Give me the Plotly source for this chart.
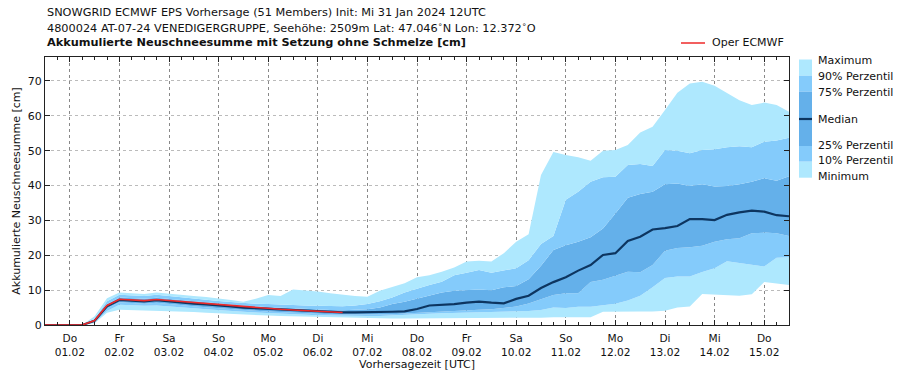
import pandas as pd
import plotly.graph_objects as go

# ---------------- data (6-hourly, from init 2024-01-31 12 UTC) ----------------
init_time = "2024-01-31 12:00"
n_steps = 61
times = pd.date_range(init_time, periods=n_steps, freq="6h")

maximum = [0, 0, 0, 0, 2.5, 7.7, 9.3, 9.1, 8.9, 9.3, 8.9, 8.7, 8.3, 8.0,
           7.7, 7.2, 6.7, 7.5, 8.6, 8.3, 10.2, 10.0, 9.6, 9.1,
           8.6, 8.3, 8.1, 9.8, 10.9, 12.0, 13.7, 14.3, 15.3, 16.5,
           18.2, 18.4, 18.2, 20.6, 23.9, 26.0, 43.0, 49.6, 48.8, 48.1,
           47.1, 50.0, 50.2, 51.6, 55.2, 56.9, 61.7, 66.6, 69.3, 69.8,
           68.6, 66.5, 64.5, 63.1, 63.8, 63.1, 61.2]
p90 = [0, 0, 0, 0, 1.8, 6.8, 8.7, 8.5, 8.3, 8.7, 8.3, 8.0, 7.6, 7.3,
       6.9, 6.6, 6.3, 6.1, 6.0, 5.8, 5.7, 5.6, 5.5, 5.4,
       5.4, 5.6, 6.0, 6.8, 7.9, 9.3, 10.5, 11.5, 12.4, 14.3,
       15.0, 15.8, 15.0, 15.6, 16.3, 18.6, 23.2, 25.5, 35.9, 38.2,
       41.1, 42.4, 42.5, 45.9, 46.2, 45.6, 50.2, 50.0, 49.3, 50.2,
       50.4, 51.0, 51.3, 51.0, 52.6, 52.9, 53.7]
p75 = [0, 0, 0, 0, 1.5, 6.0, 7.9, 7.7, 7.5, 7.8, 7.4, 7.1, 6.8, 6.5,
       6.1, 5.8, 5.5, 5.3, 5.1, 4.9, 4.7, 4.5, 4.4, 4.3,
       4.2, 4.3, 4.5, 5.0, 6.0, 6.7, 7.6, 8.6, 9.3, 9.8,
       10.0, 10.2, 10.0, 10.8, 11.2, 13.1, 17.0, 21.5, 22.9, 23.9,
       25.2, 27.7, 32.0, 36.5, 37.6, 38.2, 40.4, 40.6, 39.9, 40.4,
       39.7, 39.9, 40.4, 41.1, 42.1, 41.4, 42.7]
median = [0, 0, 0, 0, 1.2, 5.4, 7.2, 7.0, 6.8, 7.1, 6.7, 6.4, 6.1, 5.9,
          5.5, 5.3, 5.0, 4.8, 4.6, 4.4, 4.2, 4.0, 3.9, 3.7,
          3.6, 3.6, 3.6, 3.7, 3.8, 3.9, 4.6, 5.6, 5.7, 6.0,
          6.4, 6.7, 6.4, 6.2, 7.5, 8.4, 10.6, 12.3, 13.7, 15.6,
          17.2, 20.1, 20.6, 24.1, 25.3, 27.4, 27.8, 28.4, 30.4, 30.4,
          30.1, 31.6, 32.3, 32.8, 32.5, 31.5, 31.2]
p25 = [0, 0, 0, 0, 1.0, 4.8, 6.5, 6.3, 6.1, 6.4, 6.0, 5.7, 5.4, 5.1,
       4.8, 4.6, 4.3, 4.1, 3.9, 3.7, 3.5, 3.4, 3.2, 3.1,
       3.0, 3.0, 3.0, 3.0, 3.1, 3.3, 3.5, 3.8, 4.0, 4.2,
       4.3, 4.4, 4.5, 4.8, 5.3, 6.2, 7.4, 8.6, 9.1, 9.1,
       12.3, 13.0, 14.1, 15.3, 15.1, 17.2, 21.3, 22.1, 22.3, 22.7,
       23.9, 24.6, 24.9, 26.3, 26.5, 26.3, 25.5]
p10 = [0, 0, 0, 0, 0.8, 4.0, 5.8, 5.6, 5.5, 5.6, 5.4, 5.1, 4.8, 4.5,
       4.2, 4.0, 3.8, 3.6, 3.4, 3.2, 3.0, 2.9, 2.8, 2.7,
       2.6, 2.6, 2.6, 2.6, 2.7, 2.8, 3.0, 3.2, 3.4, 3.5,
       3.6, 3.7, 3.8, 3.8, 3.8, 4.0, 4.3, 5.0, 4.9, 5.2,
       5.2, 5.6, 6.1, 7.0, 8.4, 10.8, 13.5, 13.9, 13.9, 15.2,
       16.3, 18.3, 17.8, 17.5, 16.8, 19.3, 19.4]
minimum = [0, 0, 0, 0, 0.5, 3.5, 4.4, 4.3, 4.2, 4.2, 4.1, 3.9, 3.7, 3.5,
           3.3, 3.1, 3.0, 2.8, 2.7, 2.6, 2.5, 2.4, 2.3, 2.2,
           2.1, 2.0, 2.0, 2.0, 1.9, 1.9, 1.9, 1.9, 1.9, 1.9,
           1.9, 2.0, 2.0, 2.0, 2.0, 2.1, 2.1, 2.2, 2.2, 2.2,
           2.2, 3.8, 3.9, 3.9, 3.9, 3.9, 4.1, 5.0, 5.3, 8.9,
           8.7, 8.5, 8.4, 8.8, 12.3, 11.9, 11.5]
oper = [0, 0, 0, 0, 1.3, 5.6, 7.4, 7.2, 7.0, 7.3, 7.0, 6.7, 6.4, 6.1,
        5.8, 5.5, 5.2, 5.0, 4.7, 4.5, 4.3, 4.1, 3.9, 3.8, 3.6]

day_dates = pd.date_range("2024-02-01", "2024-02-15", freq="D")
day_names = ["Do", "Fr", "Sa", "So", "Mo", "Di", "Mi", "Do", "Fr", "Sa", "So", "Mo", "Di", "Mi", "Do"]
tick_text = [f"{d}<br>{t.strftime('%d.%m')}" for d, t in zip(day_names, day_dates)]
y_ticks = [0, 10, 20, 30, 40, 50, 60, 70]

legend_labels = ["Maximum", "90% Perzentil", "75% Perzentil", "Median",
                 "25% Perzentil", "10% Perzentil", "Minimum"]

# ---------------- style ----------------
C_OUT = "#aee8fe"
C_MID = "#84cbfb"
C_IN = "#64b0ea"
C_MED = "#0d3560"
C_RED = "#ee2a2a"
FONT = "DejaVu Sans"

W, H = 903, 380
L, R, T, B = 45, 789, 57, 325

fig = go.Figure()

def band(y, color, fill):
    fig.add_trace(go.Scatter(x=times, y=y, mode="lines", line=dict(width=0, color=color),
                             fill=fill, fillcolor=color, showlegend=False, hoverinfo="skip"))

band(minimum, C_OUT, None)
band(p10, C_OUT, "tonexty")
band(p25, C_MID, "tonexty")
band(p75, C_IN, "tonexty")
band(p90, C_MID, "tonexty")
band(maximum, C_OUT, "tonexty")

fig.add_trace(go.Scatter(x=times, y=median, mode="lines", line=dict(width=2.2, color=C_MED),
                         name="Median", showlegend=False))
fig.add_trace(go.Scatter(x=times[:len(oper)], y=oper, mode="lines", line=dict(width=1.6, color=C_RED),
                         name="Oper ECMWF", showlegend=False))

minor_vals = list(times)

fig.update_xaxes(
    range=[times[0], times[-1]],
    tickmode="array", tickvals=list(day_dates), ticktext=tick_text,
    ticks="inside", ticklen=5, tickcolor="#222", tickwidth=1,
    mirror="ticks", showline=True, linecolor="#222", linewidth=1,
    showgrid=True, gridcolor="#888", griddash="dot", gridwidth=1,
    minor=dict(tickmode="array", tickvals=minor_vals, ticks="inside", ticklen=3,
               tickcolor="#222", showgrid=False),
    tickfont=dict(family=FONT, size=10.6, color="#111"),
    ticklabelstandoff=3,
    title=dict(text="Vorhersagezeit [UTC]", font=dict(family=FONT, size=11, color="#111"), standoff=3),
    zeroline=False, automargin=False,
)
fig.update_yaxes(
    range=[0, (B - T) / 34.86 * 10],
    tickmode="array", tickvals=y_ticks,
    ticks="inside", ticklen=5, tickcolor="#222",
    mirror="ticks", showline=True, linecolor="#222", linewidth=1,
    showgrid=True, gridcolor="#bbb", griddash="dot", gridwidth=1,
    tickfont=dict(family=FONT, size=11, color="#111"),
    title=dict(text="Akkumulierte Neuschneesumme [cm]", font=dict(family=FONT, size=11, color="#111"), standoff=4),
    zeroline=False, automargin=False,
)

def px(x):
    return (x - L) / (R - L)

def py(y):
    return (B - y) / (B - T)

shapes = []
annotations = []

# titles
titles = [
    ("SNOWGRID ECMWF EPS Vorhersage (51 Members) Init: Mi 31 Jan 2024 12UTC", 12.5),
    ("4800024 AT-07-24 VENEDIGERGRUPPE, Seehöhe: 2509m Lat: 47.046<sup>∘</sup>N Lon: 12.372<sup>∘</sup>O", 27),
    ("<b>Akkumulierte Neuschneesumme mit Setzung ohne Schmelze [cm]</b>", 42.5),
]
for text, yc in titles:
    annotations.append(dict(text=text, xref="paper", yref="paper", x=px(45), y=py(yc),
                            xanchor="left", yanchor="middle", showarrow=False,
                            font=dict(family=FONT, size=11.3, color="#111")))

# Oper legend
shapes.append(dict(type="line", xref="paper", yref="paper", x0=px(681), x1=px(705),
                   y0=py(43), y1=py(43), line=dict(color=C_RED, width=1.5)))
annotations.append(dict(text="Oper ECMWF", xref="paper", yref="paper", x=px(710), y=py(43),
                        xanchor="left", yanchor="middle", showarrow=False,
                        font=dict(family=FONT, size=11, color="#111")))

# right-side band legend
patches = [(59.5, 75.7, C_OUT), (75.7, 91.7, C_MID), (91.7, 119, C_IN),
           (119, 146, C_IN), (146, 161.7, C_MID), (161.7, 177.7, C_OUT)]
for y0, y1, c in patches:
    shapes.append(dict(type="rect", xref="paper", yref="paper", x0=px(799), x1=px(812),
                       y0=py(y1), y1=py(y0), fillcolor=c, line=dict(width=0)))
shapes.append(dict(type="line", xref="paper", yref="paper", x0=px(799), x1=px(812),
                   y0=py(119), y1=py(119), line=dict(color=C_MED, width=2.2)))
label_y = [60.7, 76.7, 92.3, 120, 145, 160.7, 176.7]
for lab, yc in zip(legend_labels, label_y):
    annotations.append(dict(text=lab, xref="paper", yref="paper", x=px(815.5), y=py(yc),
                            xanchor="left", yanchor="middle", showarrow=False,
                            font=dict(family=FONT, size=11, color="#111")))

fig.update_layout(
    width=W, height=H,
    margin=dict(l=L, r=W - R, t=T, b=H - B, pad=0, autoexpand=False),
    paper_bgcolor="white", plot_bgcolor="white",
    shapes=shapes, annotations=annotations,
    showlegend=False,
    font=dict(family=FONT, size=11, color="#111"),
)

fig.write_html("out.html", config={"displayModeBar": False},
               post_script="document.body.style.margin='0';document.body.style.padding='0';")
